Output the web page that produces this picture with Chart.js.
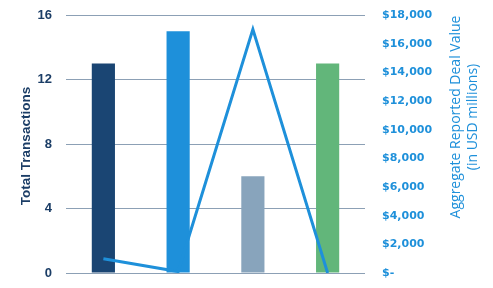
<!DOCTYPE html>
<html>
<head>
<meta charset="utf-8">
<script src="https://cdn.jsdelivr.net/npm/chart.js@4"></script>
<style>
  html, body { margin: 0; padding: 0; background: #fff; }
  #wrap { width: 493px; height: 288px; position: relative; }
</style>
</head>
<body>
<div id="wrap"><canvas id="c" width="493" height="288"></canvas></div>
<script>
const categories = ['', '', '', ''];
const transactions = [13, 15, 6, 13];
const dealValue = [1000, 100, 17000, 0];
const barColors = ['#1A4573', '#1E90DA', '#88A4BC', '#62B67A'];
const leftTicks = [0, 4, 8, 12, 16];
const rightTicks = [0, 2000, 4000, 6000, 8000, 10000, 12000, 14000, 16000, 18000];
const leftTitle = 'Total Transactions';
const rightTitle = ['Aggregate Reported Deal Value', '(in USD millions)'];

const NAVY = '#1B3D66';
const BLUE = '#1E90DA';

const titlesPlugin = {
  id: 'titles',
  afterDraw(chart) {
    const ctx = chart.ctx;
    ctx.save();
    ctx.textAlign = 'center';
    ctx.textBaseline = 'middle';
    ctx.save();
    ctx.translate(26, 146);
    ctx.rotate(-Math.PI / 2);
    ctx.fillStyle = NAVY;
    ctx.font = 'bold 13.5px "Liberation Sans", Arial, sans-serif';
    ctx.fillText(leftTitle, 0, 0);
    ctx.restore();
    ctx.save();
    ctx.translate(456, 117);
    ctx.rotate(-Math.PI / 2);
    ctx.fillStyle = BLUE;
    ctx.font = '14px "Open Sans", sans-serif';
    ctx.fillText(rightTitle[0], 0, 0);
    ctx.fillText(rightTitle[1], 0, 17);
    ctx.restore();
    ctx.restore();
  }
};

function fixFit(width) {
  return function (s) {
    s.width = width;
    s.paddingTop = 0;
    s.paddingBottom = 0;
  };
}

new Chart(document.getElementById('c'), {
  data: {
    labels: categories,
    datasets: [
      {
        type: 'line',
        data: dealValue,
        yAxisID: 'y1',
        borderColor: BLUE,
        borderWidth: 3,
        pointRadius: 0,
        tension: 0,
        fill: false,
        order: 0
      },
      {
        type: 'bar',
        data: transactions,
        yAxisID: 'y',
        backgroundColor: barColors,
        borderWidth: 0,
        barPercentage: 0.31,
        categoryPercentage: 1,
        order: 1
      }
    ]
  },
  options: {
    responsive: false,
    animation: false,
    devicePixelRatio: 1,
    layout: { padding: { top: 15, bottom: 15, left: 0, right: 0 } },
    plugins: { legend: { display: false }, tooltip: { enabled: false } },
    scales: {
      x: { display: false },
      y: {
        position: 'left',
        min: 0, max: 16,
        afterFit: fixFit(66),
        afterBuildTicks(s) { s.ticks = leftTicks.map(v => ({ value: v })); },
        border: { display: false },
        grid: { color: '#8CA0B5', lineWidth: 1, drawTicks: false },
        ticks: {
          padding: 14,
          color: NAVY,
          font: { family: '"Liberation Sans", Arial, sans-serif', size: 13, weight: 'bold' }
        }
      },
      y1: {
        position: 'right',
        min: 0, max: 18000,
        afterFit: fixFit(128),
        afterBuildTicks(s) { s.ticks = rightTicks.map(v => ({ value: v })); },
        border: { display: false },
        grid: { display: false, drawTicks: false },
        ticks: {
          padding: 17,
          color: BLUE,
          font: { family: '"DejaVu Sans", sans-serif', size: 11, weight: 'bold' },
          callback: v => v === 0 ? '$-' : '$' + v.toLocaleString('en-US')
        }
      }
    }
  },
  plugins: [titlesPlugin]
});
</script>
</body>
</html>
